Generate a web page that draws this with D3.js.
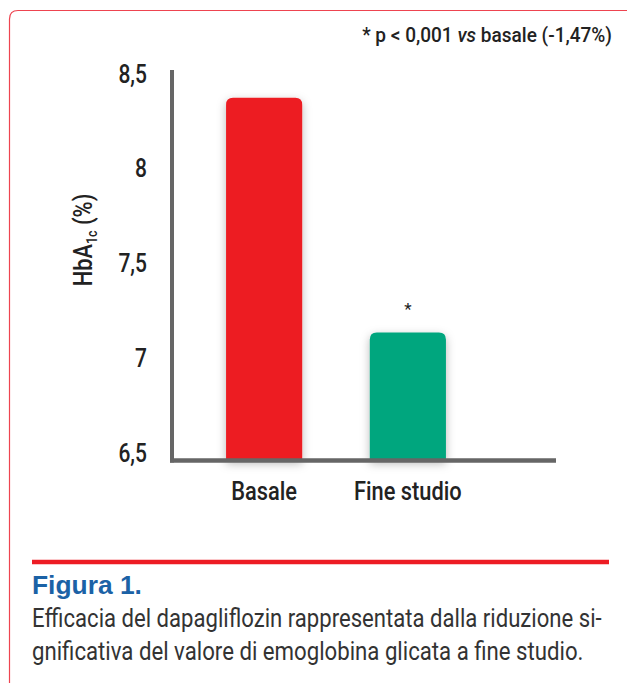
<!DOCTYPE html>
<html>
<head>
<meta charset="utf-8">
<script src="https://cdn.jsdelivr.net/npm/d3@7"></script>
<style>
  html, body { margin: 0; padding: 0; background: #fff; }
  svg { display: block; }
</style>
</head>
<body>
<svg id="chart" width="627" height="683"></svg>
<script>
// HbA1c at baseline and at end of study
const categories = ["Basale", "Fine studio"];
const values = [8.37, 7.13];
const barColors = ["#ed1c24", "#00a67e"];
const markers = ["", "*"];
const yTicks = [6.5, 7, 7.5, 8, 8.5];
const yTickLabels = ["6,5", "7", "7,5", "8", "8,5"];
const noteParts = [
  { t: "* p < 0,001 ", italic: false },
  { t: "vs", italic: true },
  { t: " basale (-1,47%)", italic: false }
];
const captionTitle = "Figura 1.";
const captionLines = [
  "Efficacia del dapagliflozin rappresentata dalla riduzione si-",
  "gnificativa del valore di emoglobina glicata a fine studio."
];

const svg = d3.select("#chart");
const FONT = "Roboto, 'Liberation Sans', sans-serif";
const SQUEEZE = 0.84; // horizontal condensing of the label face

// stretch/squeeze a text horizontally about its anchor so it spans `w` px
function fitWidth(sel, w) {
  sel.each(function () {
    const cur = this.getComputedTextLength();
    const k = w / cur;
    const base = d3.select(this.parentNode).attr("data-base");
    d3.select(this.parentNode).attr("transform", base + ` scale(${k},1)`);
  });
}

// panel frame (open on the right and bottom)
svg.append("path")
  .attr("d", "M9.5,683 L9.5,19 Q9.5,10.5 18,10.5 L627,10.5")
  .attr("fill", "none")
  .attr("stroke", "#ee4450")
  .attr("stroke-width", 1.2);

// drop shadow for the bars
const defs = svg.append("defs");
const f = defs.append("filter").attr("id", "shadow")
  .attr("x", "-40%").attr("y", "-20%").attr("width", "180%").attr("height", "140%");
f.append("feDropShadow")
  .attr("dx", 0).attr("dy", 3).attr("stdDeviation", 5)
  .attr("flood-color", "#000").attr("flood-opacity", 0.28);

// scales
const y = d3.scaleLinear().domain([6.5, 8.5]).range([452, 73]);
const x = d3.scaleBand().domain(categories).range([193, 479]).paddingInner(0.47).paddingOuter(0.23);
const axisY = 460.5;

// bars with rounded top corners
function barPath(x0, w, top, bottom, r) {
  return `M${x0},${bottom} L${x0},${top + r} Q${x0},${top} ${x0 + r},${top}` +
         ` L${x0 + w - r},${top} Q${x0 + w},${top} ${x0 + w},${top + r} L${x0 + w},${bottom} Z`;
}
const data = categories.map((c, i) => ({ c, v: values[i], color: barColors[i], m: markers[i] }));

svg.append("g").selectAll("path")
  .data(data)
  .join("path")
  .attr("d", d => barPath(x(d.c), x.bandwidth(), y(d.v), axisY, 7))
  .attr("fill", d => d.color)
  .attr("filter", "url(#shadow)");

// significance marker
svg.append("g").selectAll("text")
  .data(data.filter(d => d.m))
  .join("text")
  .attr("x", d => x(d.c) + x.bandwidth() / 2)
  .attr("y", d => y(d.v) - 18)
  .attr("text-anchor", "middle")
  .attr("font-family", FONT)
  .attr("font-size", 17)
  .attr("fill", "#222")
  .text(d => d.m);

// axes lines
svg.append("line")
  .attr("x1", 172).attr("x2", 172).attr("y1", 70).attr("y2", axisY + 2)
  .attr("stroke", "#666").attr("stroke-width", 4);
svg.append("line")
  .attr("x1", 170).attr("x2", 556).attr("y1", axisY).attr("y2", axisY)
  .attr("stroke", "#666").attr("stroke-width", 4.5);

// y tick labels
const yAxis = d3.axisLeft(y).tickValues(yTicks)
  .tickFormat((d, i) => yTickLabels[i]).tickSize(0).tickPadding(0);
const gy = svg.append("g").attr("transform", "translate(147,0)").call(yAxis);
gy.select(".domain").remove();
gy.selectAll("text")
  .attr("font-family", FONT)
  .attr("font-weight", 500)
  .attr("font-size", 25)
  .attr("fill", "#222")
  .attr("dy", "0.36em")
  .attr("transform", `scale(${SQUEEZE},1)`);

// x category labels
const xAxis = d3.axisBottom(x).tickSize(0).tickPadding(0);
const gx = svg.append("g").attr("transform", "translate(0,481)").call(xAxis);
gx.select(".domain").remove();
gx.selectAll("text")
  .attr("font-family", FONT)
  .attr("font-weight", 500)
  .attr("font-size", 26)
  .attr("fill", "#222")
  .attr("dy", "0.72em")
  .attr("transform", `scale(${SQUEEZE},1)`);

// y axis title: HbA1c (%)
const yt = svg.append("text")
  .attr("transform", `translate(92,240) rotate(-90) scale(${SQUEEZE},1)`)
  .attr("text-anchor", "middle")
  .attr("font-family", FONT)
  .attr("font-weight", 500)
  .attr("font-size", 26)
  .attr("fill", "#222");
yt.append("tspan").text("HbA");
yt.append("tspan").attr("font-size", 15).attr("dy", 5).text("1c");
yt.append("tspan").attr("dy", -5).text(" (%)");

// significance note, right aligned
const noteG = svg.append("g").attr("data-base", "translate(612,42)");
const note = noteG.append("text")
  .attr("text-anchor", "end")
  .attr("font-family", FONT)
  .attr("font-weight", 500)
  .attr("font-size", 20)
  .attr("fill", "#222");
note.selectAll("tspan").data(noteParts).join("tspan")
  .attr("font-style", d => d.italic ? "italic" : null)
  .text(d => d.t);
fitWidth(note, 250);

// caption
svg.append("line")
  .attr("x1", 32).attr("x2", 609).attr("y1", 562).attr("y2", 562)
  .attr("stroke", "#ed1c24").attr("stroke-width", 4.5);

const titleG = svg.append("g").attr("data-base", "translate(32,594)");
const title = titleG.append("text")
  .attr("font-family", "'Liberation Sans', Arial, sans-serif")
  .attr("font-weight", "bold")
  .attr("font-size", 25)
  .attr("fill", "#1b62a6")
  .text(captionTitle);
fitWidth(title, 110);

const capWidths = [570, 552];
captionLines.forEach((line, i) => {
  const g = svg.append("g").attr("data-base", `translate(32,${627 + i * 33})`);
  const t = g.append("text")
    .attr("font-family", FONT)
    .attr("font-size", 25)
    .attr("fill", "#333")
    .text(line);
  fitWidth(t, capWidths[i]);
});
</script>
</body>
</html>
